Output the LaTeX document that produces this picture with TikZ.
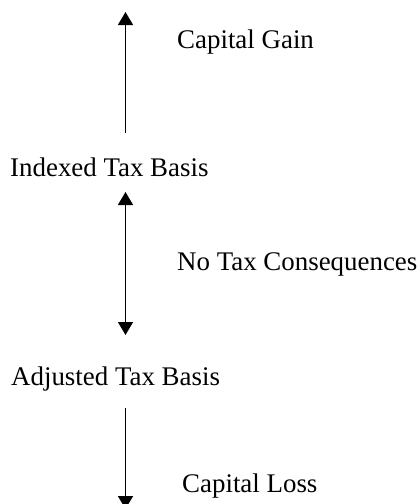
\documentclass[tikz,border=0pt]{standalone}
\usepackage{fontspec}
\setmainfont{Liberation Serif}
\usetikzlibrary{arrows.meta}
\begin{document}
\begin{tikzpicture}[x=1pt,y=-1pt,
  lbl/.style={anchor=base west,inner sep=0pt,font=\fontsize{26.9}{30}\selectfont},
  tip/.style={},
  arr/.style={line width=1.5pt,-{Triangle[length=13pt,width=15pt]}}]
\useasboundingbox (0,0) rectangle (420,504);
\node[lbl] (gain) at (177,48) {Capital Gain};
\node[lbl] (idx) at (10,176) {Indexed Tax Basis};
\node[lbl] (none) at (177,270) {No Tax Consequences};
\node[lbl] (adj) at (11,385) {Adjusted Tax Basis};
\node[lbl] (loss) at (182,492) {Capital Loss};
\coordinate (a1s) at (125.5,133);
\coordinate (a1e) at (125.5,12);
\coordinate (a2s) at (125.5,192);
\coordinate (a2e) at (125.5,335);
\coordinate (a3s) at (125.5,408);
\coordinate (a3e) at (125.5,509);
\draw[arr] (a1s) -- (a1e);
\draw[arr,{Triangle[length=13pt,width=15pt]}-{Triangle[length=13pt,width=15pt]}] (a2s) -- (a2e);
\draw[arr] (a3s) -- (a3e);
\end{tikzpicture}
\end{document}
